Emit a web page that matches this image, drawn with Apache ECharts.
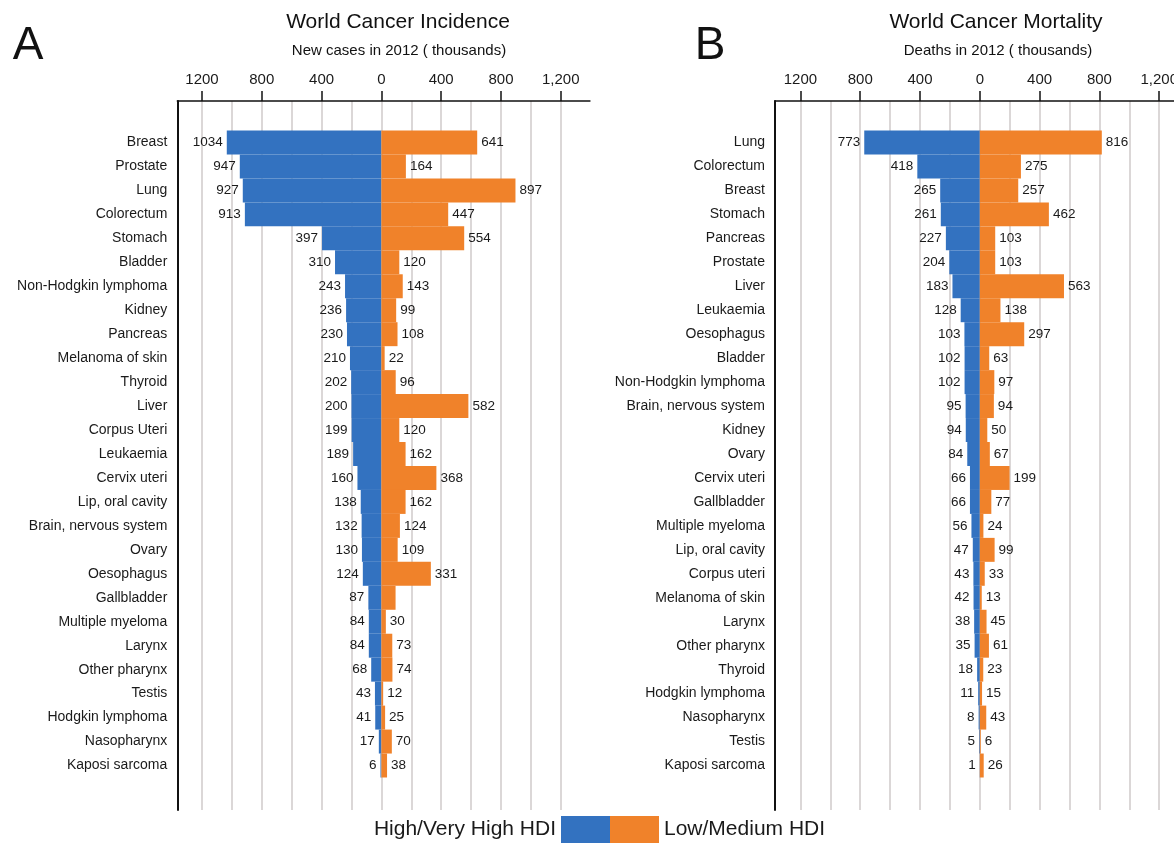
<!DOCTYPE html>
<html>
<head>
<meta charset="utf-8">
<script src="https://cdn.jsdelivr.net/npm/echarts@6/dist/echarts.min.js"></script>
<style>
html,body{margin:0;padding:0;background:#fff;}
#chart{width:1174px;height:845px;}
</style>
</head>
<body>
<div id="chart"></div>
<script>
// ---- Data ----
const incidenceCategories = ['Breast','Prostate','Lung','Colorectum','Stomach','Bladder','Non-Hodgkin lymphoma','Kidney','Pancreas','Melanoma of skin','Thyroid','Liver','Corpus Uteri','Leukaemia','Cervix uteri','Lip, oral cavity','Brain, nervous system','Ovary','Oesophagus','Gallbladder','Multiple myeloma','Larynx','Other pharynx','Testis','Hodgkin lymphoma','Nasopharynx','Kaposi sarcoma'];
const incidenceHigh = [1034,947,927,913,397,310,243,236,230,210,202,200,199,189,160,138,132,130,124,87,84,84,68,43,41,17,6];
const incidenceLow  = [641,164,897,447,554,120,143,99,108,22,96,582,120,162,368,162,124,109,331,95,30,73,74,12,25,70,38];
const incidenceLowUnlabeled = ['Gallbladder'];

const mortalityCategories = ['Lung','Colorectum','Breast','Stomach','Pancreas','Prostate','Liver','Leukaemia','Oesophagus','Bladder','Non-Hodgkin lymphoma','Brain, nervous system','Kidney','Ovary','Cervix uteri','Gallbladder','Multiple myeloma','Lip, oral cavity','Corpus uteri','Melanoma of skin','Larynx','Other pharynx','Thyroid','Hodgkin lymphoma','Nasopharynx','Testis','Kaposi sarcoma'];
const mortalityHigh = [773,418,265,261,227,204,183,128,103,102,102,95,94,84,66,66,56,47,43,42,38,35,18,11,8,5,1];
const mortalityLow  = [816,275,257,462,103,103,563,138,297,63,97,94,50,67,199,77,24,99,33,13,45,61,23,15,43,6,26];

const tickValues = [-1200,-800,-400,0,400,800,1200];
const gridLineStep = 200;
const seriesNames = ['High/Very High HDI','Low/Medium HDI'];

// ---- Styles / layout ----
const FONT = '"Liberation Sans", Arial, Helvetica, sans-serif';
const BLUE = '#3372c0';
const ORANGE = '#f0822a';
const TXT = '#1a1a1a';
const GRID_COLOR = '#cfcaca';
const K = 0.1495;            // px per thousand
const FRAME_TOP = 101, FRAME_H = 709;
const BAR_TOP = 130.5, BAR_H = 647;

function tickLabel(v){
  if (v === 0) return '0';
  if (v < 0) return String(-v);
  return v.toLocaleString('en-US');
}

function panel(idx0, left, min, max, cats){
  const zeroX = left - min * K;
  const glMin = -1400, glMax = 1400;
  const grids = [
    {left: zeroX + glMin*K, top:FRAME_TOP, width:(glMax-glMin)*K, height:FRAME_H, outerBoundsMode:'none', containLabel:false},
    {left, top:FRAME_TOP, width:(max-min)*K, height:FRAME_H, outerBoundsMode:'none', containLabel:false},
    {left, top:BAR_TOP, width:(max-min)*K, height:BAR_H, outerBoundsMode:'none', containLabel:false}
  ];
  const xAxes = [
    {type:'value', gridIndex:idx0, position:'top', min:glMin, max:glMax, interval:gridLineStep,
     axisLine:{show:false}, axisTick:{show:false}, axisLabel:{show:false},
     splitLine:{show:true, showMinLine:false, showMaxLine:false, lineStyle:{color:GRID_COLOR, width:1.5}}},
    {type:'value', gridIndex:idx0+1, position:'top', min, max,
     axisLine:{show:true, onZero:false, lineStyle:{color:'#111', width:1.5}},
     axisTick:{show:true, customValues:tickValues, length:10, lineStyle:{color:'#111', width:1.5}},
     axisLabel:{show:true, customValues:tickValues, formatter:tickLabel, margin:14,
                fontSize:15, color:TXT, fontFamily:FONT},
     splitLine:{show:false}},
    {type:'value', gridIndex:idx0+2, min, max, show:false}
  ];
  const yAxes = [
    {type:'value', gridIndex:idx0, min:0, max:1, show:false},
    {type:'value', gridIndex:idx0+1, min:0, max:1,
     axisLine:{show:true, onZero:false, lineStyle:{color:'#111', width:2}},
     axisTick:{show:false}, axisLabel:{show:false}, splitLine:{show:false}},
    {type:'category', gridIndex:idx0+2, data:cats, inverse:true,
     axisLine:{show:false}, axisTick:{show:false}, splitLine:{show:false},
     axisLabel:{margin:10, fontSize:14, color:TXT, fontFamily:FONT}}
  ];
  return {grids, xAxes, yAxes, barAxis: idx0+2};
}

const pA = panel(0, 177.3, -1365, 1395, incidenceCategories);
const pB = panel(3, 775, -1370, 1300, mortalityCategories);

function labelStyle(pos){
  return {show:true, position:pos, distance:4, fontSize:13.5, color:TXT, fontFamily:FONT,
          formatter:p => Math.abs(p.value)};
}
function highSeries(axisIdx, values){
  return {name:seriesNames[0], type:'bar', xAxisIndex:axisIdx, yAxisIndex:axisIdx,
    data: values.map(v => -v), barGap:'-100%', barCategoryGap:0,
    itemStyle:{color:BLUE}, label:labelStyle('left'), silent:true};
}
function lowSeries(axisIdx, values, cats, unlabeled){
  return {name:seriesNames[1], type:'bar', xAxisIndex:axisIdx, yAxisIndex:axisIdx,
    data: values.map((v,i) => unlabeled.includes(cats[i]) ? {value:v, label:{show:false}} : v),
    barGap:'-100%', barCategoryGap:0,
    itemStyle:{color:ORANGE}, label:labelStyle('right'), silent:true};
}

const chart = echarts.init(document.getElementById('chart'), null, {renderer:'canvas'});
chart.setOption({
  animation:false,
  backgroundColor:'#ffffff',
  textStyle:{fontFamily:FONT},
  grid: pA.grids.concat(pB.grids),
  xAxis: pA.xAxes.concat(pB.xAxes),
  yAxis: pA.yAxes.concat(pB.yAxes),
  legend:[
    {data:[seriesNames[0]], align:'right', right:564, top:816, itemWidth:49, itemHeight:27,
     padding:0, icon:'rect', selectedMode:false, textStyle:{fontSize:21, color:TXT, fontFamily:FONT}},
    {data:[seriesNames[1]], align:'left', left:610, top:816, itemWidth:49, itemHeight:27,
     padding:0, icon:'rect', selectedMode:false, textStyle:{fontSize:21, color:TXT, fontFamily:FONT}}
  ],
  graphic:[
    {type:'text', x:28, y:46, style:{text:'A', fontSize:46, fontFamily:FONT, fill:'#111', textAlign:'center', textVerticalAlign:'middle'}},
    {type:'text', x:398, y:22, style:{text:'World Cancer Incidence', fontSize:21, fontFamily:FONT, fill:'#111', textAlign:'center', textVerticalAlign:'middle'}},
    {type:'text', x:399, y:51, style:{text:'New cases in 2012 ( thousands)', fontSize:15, fontFamily:FONT, fill:'#111', textAlign:'center', textVerticalAlign:'middle'}},
    {type:'text', x:710, y:46, style:{text:'B', fontSize:46, fontFamily:FONT, fill:'#111', textAlign:'center', textVerticalAlign:'middle'}},
    {type:'text', x:996, y:22, style:{text:'World Cancer Mortality', fontSize:21, fontFamily:FONT, fill:'#111', textAlign:'center', textVerticalAlign:'middle'}},
    {type:'text', x:998, y:51, style:{text:'Deaths in 2012 ( thousands)', fontSize:15, fontFamily:FONT, fill:'#111', textAlign:'center', textVerticalAlign:'middle'}}
  ],
  series:[
    highSeries(pA.barAxis, incidenceHigh),
    lowSeries(pA.barAxis, incidenceLow, incidenceCategories, incidenceLowUnlabeled),
    highSeries(pB.barAxis, mortalityHigh),
    lowSeries(pB.barAxis, mortalityLow, mortalityCategories, [])
  ]
});
</script>
</body>
</html>
